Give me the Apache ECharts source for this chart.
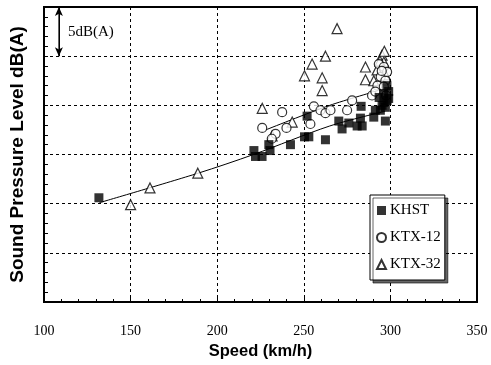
<!DOCTYPE html>
<html>
<head>
<meta charset="utf-8">
<script src="https://cdn.jsdelivr.net/npm/echarts@6/dist/echarts.min.js"></script>
<style>
  html, body { margin: 0; padding: 0; background: #fff; }
  #chart { width: 491px; height: 365px; }
</style>
</head>
<body>
<div id="chart"></div>
<script>
// speed (km/h), level dB(A)
const khst = [
  [131.7, 80.6], [221.2, 85.4], [222.1, 84.8], [225.9, 84.8], [229.8, 86.0],
  [230.5, 85.4], [242.3, 86.0], [250.4, 86.8], [252.9, 86.8], [251.9, 88.9],
  [262.5, 86.5], [270.2, 88.4], [272.1, 87.6], [276.0, 88.2], [280.8, 87.9],
  [282.7, 88.7], [283.7, 87.9], [283.1, 89.9], [290.4, 88.8], [291.3, 89.5],
  [297.1, 88.4], [296.2, 91.2], [298.1, 90.5], [299.0, 90.7], [295.2, 90.0],
  [297.1, 89.8], [294.2, 89.5], [299.0, 91.4], [296.2, 90.3], [293.5, 90.8],
  [298.0, 92.0]
];
const ktx12 = [
  [226.0, 87.7], [237.5, 89.3], [233.7, 87.1], [231.5, 86.6], [240.0, 87.7],
  [255.8, 89.9], [253.8, 88.1], [259.6, 89.5], [262.5, 89.2], [265.4, 89.5],
  [275.0, 89.5], [277.9, 90.5], [289.4, 91.0], [293.3, 94.2], [296.2, 93.9],
  [294.4, 92.9], [297.1, 92.5], [292.5, 92.0], [296.2, 91.9], [298.1, 93.4],
  [291.3, 91.4], [295.0, 93.5], [297.5, 91.0]
];
const ktx32 = [
  [150.0, 79.9], [161.2, 81.6], [188.8, 83.1], [226.0, 89.7], [231.7, 86.9],
  [243.3, 88.3], [250.4, 93.0], [254.8, 94.2], [260.6, 92.8], [260.6, 91.5],
  [262.5, 95.0], [269.2, 97.8], [285.6, 93.9], [285.6, 92.6], [295.2, 95.1],
  [292.3, 93.6], [296.2, 94.4], [290.4, 92.5], [297.1, 93.1], [294.0, 94.5],
  [296.5, 95.5]
];
// fitted lines
const lowFit = [[132, 80.1], [189, 83.1], [221, 85.0], [265, 87.9], [297, 89.4]];
const highFit = [[228, 87.5], [265, 90.0], [293, 91.5]];
// 5 dB(A) scale bar
const scaleBar = [[108.6, 100], [108.6, 95]];

const serif = "'Liberation Serif', 'Times New Roman', serif";
const sans = "'Liberation Sans', Arial, sans-serif";

const chart = echarts.init(document.getElementById("chart"));

const markerStyle = {
  color: "#fff",
  borderColor: "#000",
  borderWidth: 1.2
};

chart.setOption({
  animation: false,
  grid: {
    left: 43,
    right: 14,
    top: 7,
    bottom: 63,
    show: true,
    borderColor: "#000",
    borderWidth: 2
  },
  legend: {
    data: ["KHST", "KTX-12", "KTX-32"],
    orient: "vertical",
    left: 370,
    top: 195,
    padding: [8, 4, 8, 6],
    itemGap: 12,
    itemWidth: 9,
    itemHeight: 9,
    backgroundColor: "#fff",
    borderColor: "#000",
    borderWidth: 1,
    shadowColor: "rgba(0,0,0,0.6)",
    shadowOffsetX: 3,
    shadowOffsetY: 3,
    textStyle: { fontFamily: serif, fontSize: 15, color: "#000", padding: [0, 0, 0, -1] }
  },
  xAxis: {
    type: "value",
    min: 100,
    max: 350,
    interval: 50,
    name: "Speed (km/h)",
    nameLocation: "middle",
    nameGap: 38,
    nameTextStyle: { fontFamily: sans, fontWeight: "bold", fontSize: 16.5, color: "#000" },
    axisLine: { lineStyle: { color: "#000", width: 2 } },
    axisTick: { inside: true, length: 5, lineStyle: { color: "#000" } },
    minorTick: { show: true, splitNumber: 5, length: 3, lineStyle: { color: "#000" } },
    axisLabel: { fontFamily: serif, fontSize: 14, color: "#000", margin: 22 },
    splitLine: { show: true, lineStyle: { color: "#000", type: [3, 3], width: 1 } }
  },
  yAxis: {
    type: "value",
    min: 70,
    max: 100,
    interval: 5,
    name: "Sound Pressure Level dB(A)",
    nameLocation: "middle",
    nameGap: 17,
    nameTextStyle: { fontFamily: sans, fontWeight: "bold", fontSize: 19, color: "#000" },
    axisLine: { show: true, lineStyle: { color: "#000", width: 2 } },
    axisTick: { show: true, inside: true, length: 4, lineStyle: { color: "#000" } },
    minorTick: { show: true, splitNumber: 5, length: 4, lineStyle: { color: "#000" } },
    axisLabel: { show: false },
    splitLine: { show: true, lineStyle: { color: "#000", type: [3, 3], width: 1 } }
  },
  graphic: [
    {
      type: "text",
      left: 68,
      top: 25,
      style: { text: "5dB(A)", font: "15px " + serif, fill: "#000" }
    }
  ],
  series: [
    {
      name: "lowFit",
      type: "line",
      data: lowFit,
      showSymbol: false,
      smooth: 0.3,
      lineStyle: { color: "#000", width: 1 },
      z: 1
    },
    {
      name: "highFit",
      type: "line",
      data: highFit,
      showSymbol: false,
      smooth: 0.3,
      lineStyle: { color: "#000", width: 1 },
      z: 1
    },
    {
      name: "scale",
      type: "line",
      data: scaleBar,
      showSymbol: false,
      lineStyle: { color: "#000", width: 1 },
      markLine: {
        silent: true,
        symbol: ["arrow", "arrow"],
        symbolSize: [6, 9],
        label: { show: false },
        lineStyle: { color: "#000", width: 1, type: "solid" },
        data: [[{ coord: scaleBar[0] }, { coord: scaleBar[1] }]]
      }
    },
    {
      name: "KTX-32",
      type: "scatter",
      symbol: "triangle",
      symbolSize: 10,
      itemStyle: markerStyle,
      data: ktx32,
      z: 3
    },
    {
      name: "KTX-12",
      type: "scatter",
      symbol: "circle",
      symbolSize: 9,
      itemStyle: markerStyle,
      data: ktx12,
      z: 4
    },
    {
      name: "KHST",
      type: "scatter",
      symbol: "rect",
      symbolSize: 9,
      itemStyle: { color: "#000" },
      data: khst,
      z: 5
    }
  ]
});
</script>
</body>
</html>
